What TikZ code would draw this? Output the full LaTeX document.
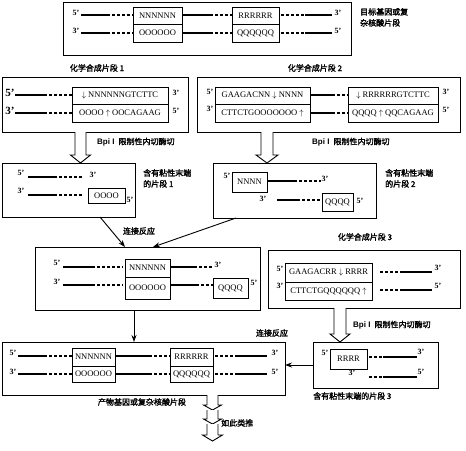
\documentclass[tikz,border=0pt]{standalone}
\usepackage{fontspec}
\setmainfont{Liberation Serif}
\newfontfamily\cjk[AutoFakeBold=2]{Noto Sans CJK SC}
\newfontfamily\lsans{Liberation Sans}
\usetikzlibrary{fit,calc,arrows.meta}
\tikzset{
 frame/.style={draw, line width=0.9pt, inner sep=0pt, outer sep=0pt},
 dna/.style={font=\fontsize{8.5}{9}\selectfont, inner sep=0pt},
 endlbl/.style={font=\bfseries\fontsize{8}{8}\selectfont, inner sep=0pt},
 bigend/.style={font=\bfseries\fontsize{11}{11}\selectfont, inner sep=0pt},
 cn/.style={font=\cjk\bfseries\fontsize{8}{11}\selectfont, inner sep=0pt, align=left},
 thk/.style={line width=2.6pt},
 dts/.style={line width=2.6pt, dash pattern=on 2.6pt off 2.4pt, dash phase=2.6pt},
 conn/.style={line width=0.9pt, -{Stealth[length=7pt,width=5pt]}},
 hollow/.style={line width=0.9pt, fill=white, line join=miter},
}
\newcommand\strandA[4]{\draw[thk] (#1,#4) -- (#2,#4); \draw[dts] (#2,#4) -- (#3,#4);}
\newcommand\strandB[4]{\draw[dts] (#1,#4) -- (#2,#4); \draw[thk] (#2,#4) -- (#3,#4);}
\newcommand\dbox[8]{%
 \node[frame, fit={(#2,#3)(#4,#6)}] (#1) {};
 \draw[line width=0.9pt] (#1.west |- 0,#5) -- (#1.east |- 0,#5);
 \node[dna] (#1t) at ({(#2+#4)/2},{(#3+#5)/2}) {#7};
 \node[dna] (#1b) at ({(#2+#4)/2},{(#5+#6)/2}) {#8};
}
\newcommand\onebox[6]{%
 \node[frame, fit={(#2,#3)(#4,#5)}] (#1) {};
 \node[dna] (#1t) at (#1.center) {#6};
}
\newcommand\blockarrow[5]{%
 \draw[hollow] let \p1=#1, \p2=#2 in
  (\x1-#3pt,\y1) -- (\x1-#3pt,\y2+#5pt) -- (\x1-#4pt,\y2+#5pt) -- (\x1,\y2)
  -- (\x1+#4pt,\y2+#5pt) -- (\x1+#3pt,\y2+#5pt) -- (\x1+#3pt,\y1);
}
\newcommand\bpi{{\lsans\bfseries Bpi I}\ \ {\cjk\bfseries 限制性内切酶切}}
\begin{document}
\begin{tikzpicture}[x=1pt,y=-1pt]
\useasboundingbox (0,0) rectangle (466,450);

% ---------- top target box ----------
\node[frame, fit={(63,2)(351,55)}] (top) {};
\strandA{81}{110}{133}{15}
\strandA{81}{110}{133}{33}
\dbox{tn}{133}{7}{182}{24}{42}{NNNNNN}{OOOOOO}
\strandA{182}{213}{232}{15}
\strandA{182}{213}{232}{33}
\dbox{tr}{232}{7}{279}{24}{42}{RRRRRR}{QQQQQQ}
\strandB{279}{305}{332}{15}
\strandB{279}{305}{332}{33}
\node[endlbl] (t5a) at (76,13) {5'};
\node[endlbl] (t3a) at (76,31) {3'};
\node[endlbl] (t3b) at (338,13) {3'};
\node[endlbl] (t5b) at (338,31) {5'};
\node[cn, anchor=north west] (toplbl) at (360,8) {目标基因或复\\杂核酸片段};

% ---------- fragment 1 ----------
\node[cn] (f1lbl) at (97,68) {化学合成片段 1};
\node[frame, fit={(2,77)(188,132)}] (f1) {};
\strandA{15}{47}{72}{95}
\strandA{15}{47}{72}{113}
\dbox{fa}{72}{87}{168}{104}{122}{$\downarrow$ NNNNNNGTCTTC}{OOOO $\uparrow$ OOCAGAAG}
\node[bigend] (f15) at (10,93) {5'};
\node[bigend] (f13) at (10,111) {3'};
\node[endlbl] (f13b) at (176,93) {3'};
\node[endlbl] (f15b) at (176,111) {5'};

% ---------- fragment 2 ----------
\node[cn] (f2lbl) at (315,68) {化学合成片段 2};
\node[frame, fit={(197,77)(460,132)}] (f2) {};
\dbox{fb}{215}{87}{310}{104}{122}{GAAGACNN $\downarrow$ NNNN}{CTTCTGOOOOOOO $\uparrow$}
\strandA{310}{335}{348}{95}
\strandA{310}{335}{348}{113}
\dbox{fc}{348}{87}{438}{104}{122}{$\downarrow$ RRRRRRGTCTTC}{QQQQ $\uparrow$ QQCAGAAG}
\node[endlbl] (f25) at (210,92) {5'};
\node[endlbl] (f23) at (210,109) {3'};
\node[endlbl] (f23b) at (446,92) {3'};
\node[endlbl] (f25b) at (446,110) {5'};

% ---------- sticky 1 ----------
\node[frame, fit={(2,163)(135,217)}] (s1) {};
\strandA{28}{57}{82}{177}
\strandA{28}{57}{82}{195}
\onebox{oo}{88}{188}{125}{203}{OOOO}
\node[endlbl] (s15) at (21,173) {5'};
\node[endlbl] (s13) at (21,191) {3'};
\node[endlbl] (s13b) at (93,175) {3'};
\node[endlbl] (s15b) at (130,200) {5'};
\node[cn, anchor=north west] (s1lbl) at (143,169) {含有粘性末端\\的片段 1};

% ---------- sticky 2 ----------
\node[frame, fit={(213,163)(376,218)}] (s2) {};
\onebox{nn}{232}{172}{267}{192}{NNNN}
\strandA{267}{297}{321}{181}
\strandA{277}{300}{322}{200}
\onebox{qq}{322}{193}{353}{211}{QQQQ}
\node[endlbl] (s25) at (227,176) {5'};
\node[endlbl] (s23) at (263,199) {3'};
\node[endlbl] (s23b) at (325,179) {3'};
\node[endlbl] (s25b) at (360,201) {5'};
\node[cn, anchor=north west] (s2lbl) at (385,169) {含有粘性末端\\的片段 2};

% ---------- Bpi arrows ----------
\blockarrow{($(f1.south west)+(78.5,0)$)}{($(s1.north west)+(78.5,0)$)}{5.5}{10}{8}
\node[anchor=west, inner sep=0pt, font=\fontsize{8}{8}\selectfont] (bp1) at (97,142) {\bpi};
\blockarrow{($(f2.south west)+(70,0)$)}{($(s2.north west)+(54,0)$)}{6}{11}{8}
\node[anchor=west, inner sep=0pt, font=\fontsize{8}{8}\selectfont] (bp2) at (312,142) {\bpi};

% ---------- ligated ----------
\node[cn] (lig1) at (139,231) {连接反应};
\node[frame, fit={(35,247)(260,310)}] (lg) {};
\strandA{63}{95}{123}{267}
\strandA{63}{95}{123}{285}
\dbox{ln}{125}{259}{170}{277}{299}{NNNNNN}{OOOOOO}
\strandA{170}{197}{213}{267}
\strandA{170}{199}{213}{285}
\onebox{lq}{213}{278}{248}{298}{QQQQ}
\node[endlbl] (l5) at (57,263) {5'};
\node[endlbl] (l3) at (57,282) {3'};
\node[endlbl] (l3b) at (218,265) {3'};
\node[endlbl] (l5b) at (254,283) {5'};
\draw[conn] ($(s1.south west)+(98,0)$) -- ($(lg.north west)+(90,0)$);
\draw[conn] ($(s2.south west)+(23,0)$) -- ($(lg.north west)+(118,0)$);

% ---------- fragment 3 ----------
\node[cn] (f3lbl) at (365,237) {化学合成片段 3};
\node[frame, fit={(268,250)(460,308)}] (f3) {};
\dbox{fd}{285}{263}{372}{282}{300}{GAAGACRR $\downarrow$ RRRR}{CTTCTGQQQQQQ $\uparrow$}
\strandB{378}{400}{432}{272}
\strandB{378}{400}{432}{290}
\node[endlbl] (f35) at (280,269) {5'};
\node[endlbl] (f33) at (280,286) {3'};
\node[endlbl] (f33b) at (438,268) {3'};
\node[endlbl] (f35b) at (438,286) {5'};

% ---------- sticky 3 ----------
\node[frame, fit={(313,342)(438,388)}] (s3) {};
\onebox{rr}{330}{349}{367}{369}{RRRR}
\strandB{367}{383}{417}{357}
\strandB{367}{383}{417}{377}
\node[endlbl] (s35) at (325,353) {5'};
\node[endlbl] (s33) at (352,373) {3'};
\node[endlbl] (s33b) at (421,352) {3'};
\node[endlbl] (s35b) at (421,372) {5'};
\node[cn, anchor=west] (s3lbl) at (313,396) {含有粘性末端的片段 3};
\blockarrow{($(f3.south west)+(72,0)$)}{($(s3.north west)+(27,0)$)}{6}{10}{8}
\node[anchor=west, inner sep=0pt, font=\fontsize{8}{8}\selectfont] (bp3) at (353,325) {\bpi};

% ---------- final ----------
\node[cn] (lig2) at (272,333) {连接反应};
\node[frame, fit={(2,342)(285,395)}] (fin) {};
\strandA{18}{47}{72}{356}
\strandA{18}{47}{72}{374}
\dbox{pn}{72}{348}{115}{366}{382}{NNNNNN}{OOOOOO}
\strandA{115}{152}{170}{356}
\strandA{115}{152}{170}{374}
\dbox{pr}{170}{348}{213}{366}{382}{RRRRRR}{QQQQQQ}
\strandB{213}{235}{267}{356}
\strandB{213}{235}{267}{374}
\node[endlbl] (p5) at (13,353) {5'};
\node[endlbl] (p3) at (13,372) {3'};
\node[endlbl] (p3b) at (275,353) {3'};
\node[endlbl] (p5b) at (275,372) {5'};
\node[cn] (finlbl) at (142,402) {产物基因或复杂核酸片段};
\draw[conn] ($(lg.south west)+(99,0)$) -- ($(fin.north west)+(132,0)$);
\draw[conn] (s3.west) -- (s3.west -| fin.east);

% ---------- bottom arrows ----------
\coordinate (c1) at (212.5,410);
\coordinate (c2) at (212.5,424);
\coordinate (c3) at (212.5,441);
\blockarrow{($(fin.south west)+(210.5,0)$)}{(c1)}{5.5}{9}{5}
\blockarrow{(c1)}{(c2)}{5.5}{9}{5}
\blockarrow{(c2)}{(c3)}{5.5}{10}{6}
\node[cn, anchor=west] (more) at (221,423) {如此类推};
\end{tikzpicture}
\end{document}
